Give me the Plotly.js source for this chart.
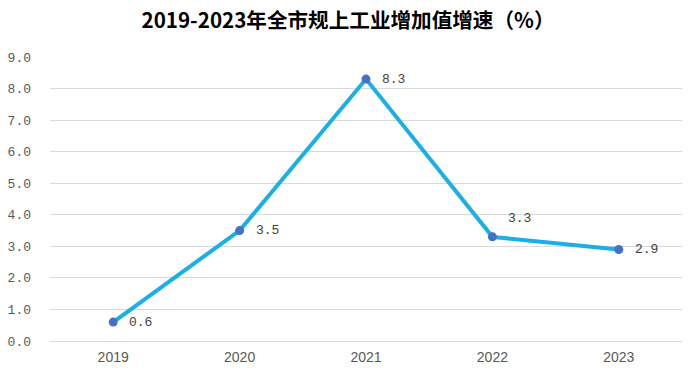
<!DOCTYPE html>
<html>
<head>
<meta charset="utf-8">
<script src="https://cdn.plot.ly/plotly-3.0.1.min.js"></script>
<style>html,body{margin:0;padding:0;background:#fff;}#chart{width:696px;height:375px;}</style>
</head>
<body>
<div id="chart"></div>
<script>
const years = ['2019', '2020', '2021', '2022', '2023'];
const growth = [0.6, 3.5, 8.3, 3.3, 2.9];
const labelLift = [0, 0, 0, 18, 0];
const yTicks = [0, 1, 2, 3, 4, 5, 6, 7, 8, 9];

const trace = {
  x: years,
  y: growth,
  type: 'scatter',
  mode: 'lines+markers',
  line: {color: '#1AAFE6', width: 4},
  marker: {color: '#4472C4', size: 9},
  cliponaxis: false,
  hoverinfo: 'skip'
};

const annotations = years.map((yr, i) => ({
  x: i, y: growth[i], xref: 'x', yref: 'y',
  text: growth[i].toFixed(1),
  showarrow: false,
  xanchor: 'left', yanchor: 'middle',
  xshift: 14, yshift: labelLift[i],
  font: {family: 'Liberation Mono, monospace', size: 13, color: '#404040'}
}));

const layout = {
  width: 696, height: 375,
  margin: {l: 50, r: 14, t: 57, b: 34},
  paper_bgcolor: '#ffffff', plot_bgcolor: '#ffffff',
  showlegend: false,
  annotations: annotations,
  title: {
    text: '<b>2019-2023年全市规上工业增加值增速（%）</b>',
    font: {family: 'Noto Sans CJK SC, sans-serif', size: 20.6, color: '#000000'},
    x: 0.5, xanchor: 'center', y: 0.945, yanchor: 'middle'
  },
  xaxis: {
    type: 'category',
    range: [-0.5, 4.5],
    showgrid: false, zeroline: false, showline: false,
    ticks: '',
    ticklabelstandoff: 6,
    tickfont: {family: 'Liberation Sans, sans-serif', size: 14, color: '#595959'},
    fixedrange: true
  },
  yaxis: {
    range: [0, 9],
    tickvals: yTicks,
    ticktext: yTicks.map(v => v.toFixed(1)),
    showgrid: true, gridcolor: '#D9D9D9', gridwidth: 1,
    zeroline: true, zerolinecolor: '#D9D9D9', zerolinewidth: 1,
    showline: false, ticks: '',
    ticklabelstandoff: 18,
    tickfont: {family: 'Liberation Mono, monospace', size: 13, color: '#595959'},
    fixedrange: true
  }
};

Plotly.newPlot('chart', [trace], layout, {displayModeBar: false, staticPlot: true});
</script>
</body>
</html>
